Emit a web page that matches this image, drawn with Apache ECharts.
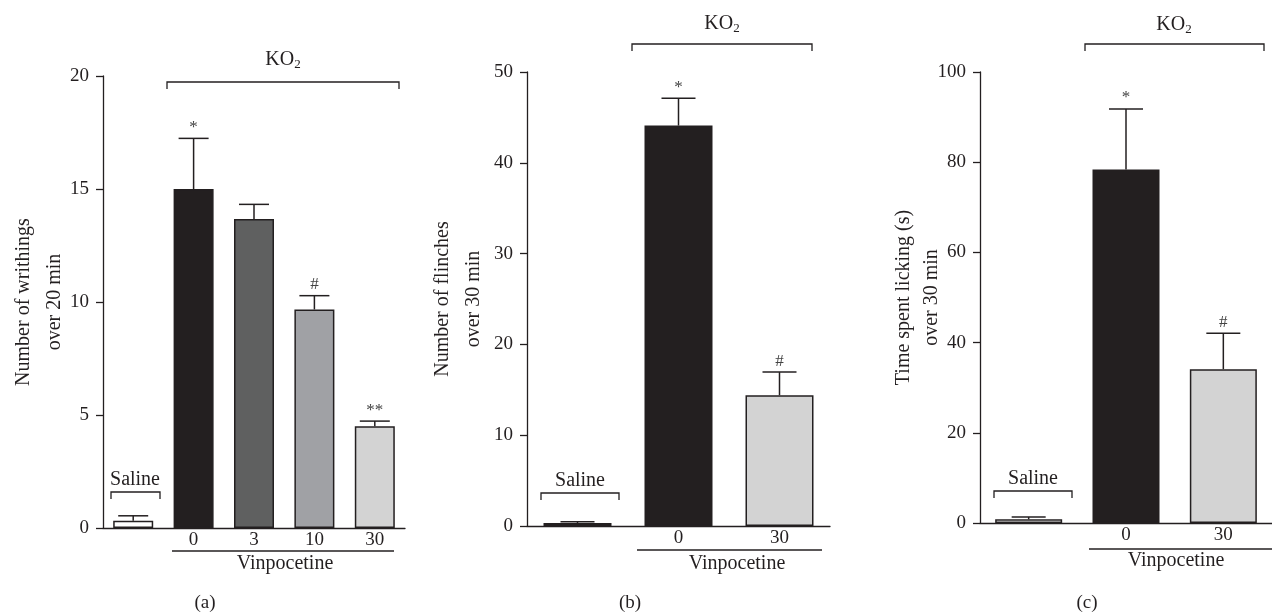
<!DOCTYPE html>
<html>
<head>
<meta charset="utf-8">
<script src="https://cdn.jsdelivr.net/npm/echarts@6/dist/echarts.min.js"></script>
<style>
  html, body { margin: 0; padding: 0; background: #fff; }
  #main { width: 1272px; height: 616px; }
</style>
</head>
<body>
<div id="main"></div>
<script>
/*
 * data
 */
// (a) writhing
var catsA = ['', '0', '3', '10', '30'];
var meanA = [0.32, 15.0, 13.67, 9.67, 4.5];
var semA = [0.22, 2.24, 0.65, 0.61, 0.23];
var markA = ['', '*', '', '#', '**'];

// (b) flinches
var catsB = ['', '0', '30'];
var meanB = [0.33, 44.1, 14.4];
var semB = [0.15, 3.0, 2.55];
var markB = ['', '*', '#'];

// (c) licking
var catsC = ['', '0', '30'];
var meanC = [0.82, 78.4, 34.1];
var semC = [0.5, 13.4, 8.0];
var markC = ['', '*', '#'];

var ink = '#231f20';
var serif = '"Liberation Serif", "DejaVu Serif", serif';

function barData(vals, colors) {
  return vals.map(function (v, i) {
    return { value: v, itemStyle: { color: colors[i] } };
  });
}

// 误差线 + 显著性标记
function errSeries(idx, means, sems, marks, halfCap) {
  return {
    type: 'custom',
    xAxisIndex: idx,
    yAxisIndex: idx,
    z: 5,
    data: means.map(function (m, i) { return [i, m, sems[i]]; }),
    encode: { x: 0, y: 1 },
    renderItem: function (params, api) {
      var i = api.value(0), m = api.value(1), e = api.value(2);
      var base = api.coord([i, m]);
      var top = api.coord([i, m + e]);
      var ls = { stroke: ink, lineWidth: 1.5 };
      var kids = [
        { type: 'line', shape: { x1: base[0], y1: base[1], x2: top[0], y2: top[1] }, style: ls },
        { type: 'line', shape: { x1: top[0] - halfCap, y1: top[1], x2: top[0] + halfCap, y2: top[1] }, style: ls }
      ];
      var mk = marks[params.dataIndex];
      if (mk) {
        kids.push({
          type: 'text',
          style: {
            text: mk, x: top[0], y: top[1] - 11,
            align: 'center', verticalAlign: 'middle',
            font: '17px ' + serif, fill: '#444'
          }
        });
      }
      return { type: 'group', children: kids };
    }
  };
}

function yAx(idx, max, step, name, gap, lh) {
  return {
    gridIndex: idx,
    type: 'value',
    min: 0, max: max, interval: step,
    name: name,
    nameLocation: 'middle',
    nameRotate: 90,
    nameGap: gap,
    nameMoveOverlap: false,
    nameTextStyle: { fontFamily: serif, fontSize: 20, color: ink, lineHeight: lh, align: 'center' },
    splitLine: { show: false },
    axisLine: { show: true, lineStyle: { color: ink, width: 1.3 } },
    axisTick: { show: true, length: 7, lineStyle: { color: ink, width: 1.3 } },
    axisLabel: { fontFamily: serif, fontSize: 19, color: ink, margin: 14 }
  };
}

function xAx(idx, cats) {
  return {
    gridIndex: idx,
    type: 'category',
    data: cats,
    axisLine: { show: true, lineStyle: { color: ink, width: 1.3 } },
    axisTick: { show: false },
    axisLabel: { fontFamily: serif, fontSize: 19, color: ink, margin: 3 }
  };
}

// bracket shape
function bracket(x1, x2, y, down) {
  return {
    type: 'polyline',
    shape: { points: [[x1, y + down], [x1, y], [x2, y], [x2, y + down]] },
    style: { stroke: ink, lineWidth: 1.3, fill: null }
  };
}
function hline(x1, x2, y) {
  return { type: 'line', shape: { x1: x1, y1: y, x2: x2, y2: y }, style: { stroke: ink, lineWidth: 1.3 } };
}
function txt(s, x, y, size) {
  return {
    type: 'text', x: x, y: y,
    style: { text: s, font: (size || 20) + 'px ' + serif, fill: ink, align: 'center', verticalAlign: 'middle' }
  };
}
function ko2(x, y) {
  return {
    type: 'text', x: x, y: y,
    style: {
      text: '{a|KO}{s|2}', align: 'center', verticalAlign: 'middle',
      rich: {
        a: { fontFamily: serif, fontSize: 20, fill: ink, color: ink },
        s: { fontFamily: serif, fontSize: 13, fill: ink, color: ink, padding: [9, 0, 0, 0] }
      }
    }
  };
}

var chart = echarts.init(document.getElementById('main'));

var option = {
  animation: false,
  backgroundColor: '#fff',
  grid: [
    { left: 103, top: 76, width: 302, height: 452 },
    { left: 527, top: 72, width: 303, height: 454 },
    { left: 980, top: 72, width: 302, height: 451 }
  ],
  xAxis: [xAx(0, catsA), xAx(1, catsB), xAx(2, catsC)],
  yAxis: [
    yAx(0, 20, 5, 'Number of writhings\nover 20 min', 33, 31),
    yAx(1, 50, 10, 'Number of flinches\nover 30 min', 38, 31),
    yAx(2, 100, 20, 'Time spent licking (s)\nover 30 min', 34, 28)
  ],
  series: [
    {
      type: 'bar', xAxisIndex: 0, yAxisIndex: 0, barWidth: 40,
      data: barData(meanA, ['#ffffff', '#231f20', '#5f6060', '#a0a1a5', '#d3d3d3']),
      itemStyle: { borderColor: ink, borderWidth: 1.5 }
    },
    errSeries(0, meanA, semA, markA, 15),
    {
      type: 'bar', xAxisIndex: 1, yAxisIndex: 1, barWidth: 68,
      data: barData(meanB, ['#d3d3d3', '#231f20', '#d3d3d3']),
      itemStyle: { borderColor: ink, borderWidth: 1.5 }
    },
    errSeries(1, meanB, semB, markB, 17),
    {
      type: 'bar', xAxisIndex: 2, yAxisIndex: 2, barWidth: 67,
      data: barData(meanC, ['#ffffff', '#231f20', '#d3d3d3']),
      itemStyle: { borderColor: ink, borderWidth: 1.5 }
    },
    errSeries(2, meanC, semC, markC, 17)
  ],
  graphic: [
    // (a)
    ko2(283, 60),
    bracket(167, 399, 82, 7),
    txt('Saline', 135, 480),
    bracket(111, 160, 492, 7),
    hline(172, 394, 551),
    txt('Vinpocetine', 285, 564),
    txt('(a)', 205, 603, 19),
    // (b)
    ko2(722, 24),
    bracket(632, 812, 44, 7),
    txt('Saline', 580, 481),
    bracket(541, 619, 493, 7),
    hline(637, 822, 550),
    txt('Vinpocetine', 737, 564),
    txt('(b)', 630, 603, 19),
    // (c)
    ko2(1174, 25),
    bracket(1085, 1264, 44, 7),
    txt('Saline', 1033, 479),
    bracket(994, 1072, 491, 7),
    hline(1089, 1272, 549),
    txt('Vinpocetine', 1176, 561),
    txt('(c)', 1087, 603, 19)
  ]
};

chart.setOption(option);
</script>
</body>
</html>
